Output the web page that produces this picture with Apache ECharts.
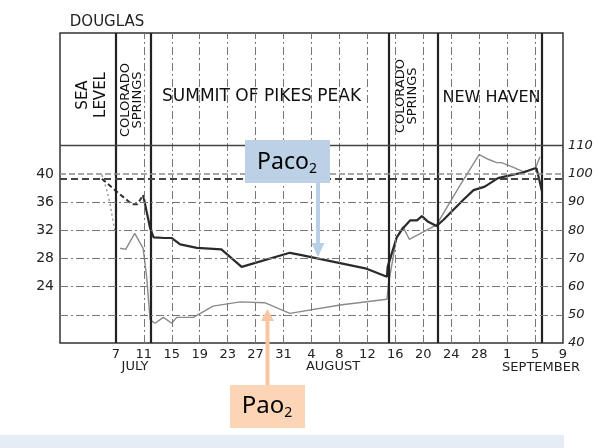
<!DOCTYPE html>
<html>
<head>
<meta charset="utf-8">
<script src="https://cdn.jsdelivr.net/npm/echarts@6/dist/echarts.min.js"></script>
<style>
  html, body { margin: 0; padding: 0; background: #ffffff; }
  #chart { width: 612px; height: 448px; }
</style>
</head>
<body>
<div id="chart"></div>
<script>
// ---- Data (x = days after July 7) ----
const dayTicks = [0, 4, 8, 12, 16, 20, 24, 28, 32, 36, 40, 44, 48, 52, 56, 60, 64];
const dayTickLabels = ['7', '11', '15', '19', '23', '27', '31', '4', '8', '12', '16', '20', '24', '28', '1', '5', '9'];
const monthLabels = ['JULY', 'AUGUST', 'SEPTEMBER'];
const stationBoundaryDays = [0, 5, 39, 46, 61];
const gridDays = [4, 8, 12, 16, 20, 24, 28, 32, 36, 40, 44, 48, 52, 56, 60];
const leftTickLabels = [24, 28, 32, 36, 40];          // Paco2 (mm Hg)
const rightTickLabels = [40, 50, 60, 70, 80, 90, 100, 110]; // Pao2 (mm Hg)
const gridLevelsPao2 = [50, 60, 70, 80, 90];
const normalPao2 = 100;
const normalPaco2 = 39.3;
const headerLinePao2 = 110;

// Paco2 - dashed part (sea level / Colorado Springs)
const pacoDashed = [[-2.0, 39.3], [0.1, 37.5], [2.3, 35.7], [3.1, 35.7], [3.9, 37.0]];
// Paco2 - solid part
const pacoSolid = [
  [3.9, 37.0], [4.9, 32.3], [5.4, 31.0], [7.0, 30.9], [8.0, 30.9], [9.2, 30.0],
  [11.6, 29.5], [15.1, 29.3], [18.0, 26.8], [24.9, 28.8], [26.4, 28.5], [35.7, 26.6],
  [38.8, 25.4], [38.9, 26.8], [40.2, 31.0], [41.1, 32.3], [42.1, 33.4], [43.1, 33.4],
  [43.8, 34.0], [44.7, 33.2], [45.9, 32.6], [46.9, 33.5], [49.7, 36.3], [51.2, 37.7],
  [52.8, 38.2], [54.7, 39.4], [56.4, 39.8], [58.3, 40.2], [59.7, 40.7], [60.2, 40.8],
  [60.5, 39.6], [61.0, 37.5]
];
// Pao2 - dotted part
const paoDotted = [[-2.0, 99.6], [-1.3, 94.3], [-0.8, 89.0], [-0.4, 83.0], [0.0, 78.3]];
// Pao2 - solid part
const paoSolid = [
  [0.6, 73.6], [1.4, 73.2], [2.7, 78.9], [3.9, 73.6], [4.4, 63.5], [4.9, 48.2],
  [5.6, 47.0], [6.8, 49.1], [8.0, 47.0], [8.7, 49.1], [11.1, 49.1], [13.9, 53.1],
  [17.8, 54.6], [21.3, 54.3], [24.9, 50.5], [32.1, 53.5], [38.8, 55.5], [39.0, 60.6],
  [40.2, 77.7], [41.1, 81.3], [42.0, 76.8], [45.9, 81.9], [49.3, 96.1], [52.0, 106.8],
  [53.3, 105.2], [54.5, 104.0], [55.2, 104.0], [56.9, 102.3], [58.3, 100.8],
  [59.3, 101.4], [60.1, 102.3], [60.7, 106.1]
];

const chart = echarts.init(document.getElementById('chart'), null, { renderer: 'canvas' });

const dashDot = [8, 3, 2, 3];
const verticalLines = []
  .concat(gridDays.map(d => ({ xAxis: d, lineStyle: { color: '#777', width: 1, type: dashDot } })))
  .concat(stationBoundaryDays.map(d => ({ xAxis: d, lineStyle: { color: '#222', width: 2.2, type: 'solid' } })));
const horizontalLinesR = []
  .concat(gridLevelsPao2.map(v => ({ yAxis: v, lineStyle: { color: '#777', width: 1, type: dashDot } })))
  .concat([{ yAxis: normalPao2, lineStyle: { color: '#8c8c8c', width: 1.5, type: [6, 3] } }])
  .concat([{ yAxis: headerLinePao2, lineStyle: { color: '#444', width: 1.4, type: 'solid' } }]);

const labelFont = '"DejaVu Sans", sans-serif';

const option = {
  animation: false,
  backgroundColor: '#ffffff',
  grid: { left: 60, right: 49, top: 33, bottom: 105, show: true, borderColor: '#333', borderWidth: 1.5 },
  xAxis: {
    type: 'value', min: -8, max: 64, interval: 4,
    axisLine: { show: false }, axisTick: { show: false }, splitLine: { show: false },
    axisLabel: {
      margin: 5, color: '#222', fontSize: 13, fontFamily: labelFont,
      formatter: v => { const i = dayTicks.indexOf(v); return i >= 0 ? dayTickLabels[i] : ''; }
    }
  },
  yAxis: [
    {
      type: 'value', min: 16, max: 60, interval: 4, position: 'left',
      axisLine: { show: false }, axisTick: { show: false }, splitLine: { show: false },
      axisLabel: { margin: 6, color: '#222', fontSize: 14, fontFamily: labelFont,
        formatter: v => leftTickLabels.indexOf(v) >= 0 ? String(v) : '' }
    },
    {
      type: 'value', min: 40, max: 150, interval: 10, position: 'right',
      axisLine: { show: false }, axisTick: { show: false }, splitLine: { show: false },
      axisLabel: { margin: 5, color: '#222', fontSize: 13, fontStyle: 'italic', fontFamily: labelFont,
        formatter: v => rightTickLabels.indexOf(v) >= 0 ? String(v) : '' }
    }
  ],
  series: [
    {
      name: 'grid-v', type: 'line', yAxisIndex: 1, data: [], z: 1, silent: true,
      markLine: { symbol: ['none', 'none'], silent: true, label: { show: false }, animation: false,
        emphasis: { disabled: true }, data: verticalLines.concat(horizontalLinesR) }
    },
    {
      name: 'normal-paco2', type: 'line', yAxisIndex: 0, data: [], z: 1, silent: true,
      markLine: { symbol: ['none', 'none'], silent: true, label: { show: false }, animation: false,
        emphasis: { disabled: true },
        data: [{ yAxis: normalPaco2, lineStyle: { color: '#444', width: 2, type: [7, 4] } }] }
    },
    { name: 'Pao2 sea level', type: 'line', yAxisIndex: 1, data: paoDotted, showSymbol: false, symbol: 'none', z: 3,
      lineStyle: { color: '#999', width: 1.5, type: [2, 3] } },
    { name: 'Pao2', type: 'line', yAxisIndex: 1, data: paoSolid, showSymbol: false, symbol: 'none', z: 3,
      lineStyle: { color: '#8a8a8a', width: 1.4 } },
    { name: 'Paco2 sea level', type: 'line', yAxisIndex: 0, data: pacoDashed, showSymbol: false, symbol: 'none', z: 4,
      lineStyle: { color: '#333', width: 2, type: [5, 3] } },
    { name: 'Paco2', type: 'line', yAxisIndex: 0, data: pacoSolid, showSymbol: false, symbol: 'none', z: 4,
      lineStyle: { color: '#2a2a2a', width: 2.2 } }
  ],
  graphic: [
    { type: 'rect', silent: true, shape: { x: 0, y: 435, width: 564, height: 13 }, style: { fill: '#e4ecf5' } },
    { type: 'text', x: 107, y: 22, style: { text: 'DOUGLAS', font: '15px ' + labelFont, fill: '#222', align: 'center', verticalAlign: 'middle' } },
    { type: 'text', x: 92.5, y: 95, rotation: Math.PI / 2,
      style: { text: 'SEA\nLEVEL', font: '15px ' + labelFont, lineHeight: 18, fill: '#111', align: 'center', verticalAlign: 'middle' } },
    { type: 'text', x: 132, y: 100, rotation: Math.PI / 2,
      style: { text: 'COLORADO\nSPRINGS', font: '13px ' + labelFont, lineHeight: 12, fill: '#111', align: 'center', verticalAlign: 'middle' } },
    { type: 'text', x: 261.5, y: 97,
      style: { text: 'SUMMIT OF PIKES PEAK', font: '17px ' + labelFont, fill: '#111', align: 'center', verticalAlign: 'middle' } },
    { type: 'text', x: 406.5, y: 96, rotation: Math.PI / 2,
      style: { text: 'COLORADO\nSPRINGS', font: '13px ' + labelFont, lineHeight: 12, fill: '#111', align: 'center', verticalAlign: 'middle' } },
    { type: 'text', x: 491.5, y: 98,
      style: { text: 'NEW HAVEN', font: '16px ' + labelFont, fill: '#111', align: 'center', verticalAlign: 'middle' } },
    { type: 'text', x: 135, y: 367, style: { text: monthLabels[0], font: '13px ' + labelFont, fill: '#222', align: 'center', verticalAlign: 'middle' } },
    { type: 'text', x: 333, y: 367, style: { text: monthLabels[1], font: '13px ' + labelFont, fill: '#222', align: 'center', verticalAlign: 'middle' } },
    { type: 'text', x: 541, y: 368, style: { text: monthLabels[2], font: '13px ' + labelFont, fill: '#222', align: 'center', verticalAlign: 'middle' } },
    // Paco2 annotation
    { type: 'rect', z: 10, shape: { x: 245, y: 140, width: 85, height: 43 }, style: { fill: '#bcd0e6' } },
    { type: 'rect', z: 10, shape: { x: 316, y: 183, width: 4, height: 61 }, style: { fill: '#b8cfe6' } },
    { type: 'polygon', z: 10, shape: { points: [[311.5, 243], [324.5, 243], [318, 257]] }, style: { fill: '#b8cfe6' } },
    { type: 'text', z: 11, x: 287, y: 162,
      style: { text: '{a|Paco}{b|2}', align: 'center', verticalAlign: 'middle',
        rich: { a: { fontSize: 23, fontFamily: 'Noto Sans', fill: '#000', color: '#000', lineHeight: 28 },
                b: { fontSize: 14, fontFamily: 'Noto Sans', fill: '#000', color: '#000', verticalAlign: 'bottom', lineHeight: 28 } } } },
    // Pao2 annotation
    { type: 'rect', z: 10, shape: { x: 230, y: 385, width: 75, height: 43 }, style: { fill: '#fbd5b6' } },
    { type: 'rect', z: 10, shape: { x: 265.5, y: 320, width: 4, height: 65 }, style: { fill: '#f9c6a2' } },
    { type: 'polygon', z: 10, shape: { points: [[261, 321], [274, 321], [267.5, 309]] }, style: { fill: '#f9c6a2' } },
    { type: 'text', z: 11, x: 267, y: 406,
      style: { text: '{a|Pao}{b|2}', align: 'center', verticalAlign: 'middle',
        rich: { a: { fontSize: 24, fontFamily: 'Noto Sans', fill: '#000', color: '#000', lineHeight: 28 },
                b: { fontSize: 14, fontFamily: 'Noto Sans', fill: '#000', color: '#000', verticalAlign: 'bottom', lineHeight: 28 } } } }
  ]
};
chart.setOption(option);
</script>
</body>
</html>
